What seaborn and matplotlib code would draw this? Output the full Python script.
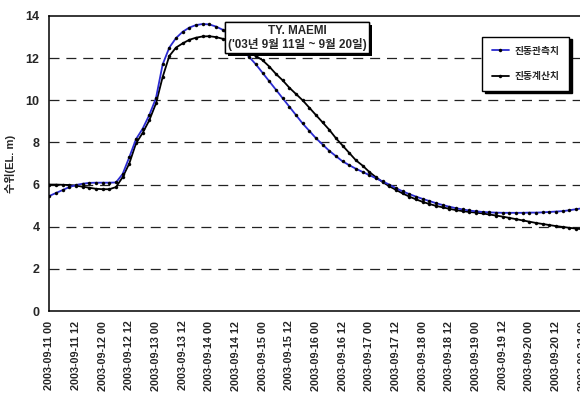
import matplotlib
matplotlib.use("Agg")
import matplotlib.pyplot as plt
import matplotlib.dates as mdates
import matplotlib.patheffects as pe
import seaborn as sns
import pandas as pd

# 3-hourly water level, 2003-09-11 00h .. 2003-09-21 00h (EL. m)
times = pd.date_range("2003-09-11 00:00", "2003-09-21 00:00", freq="3h")

observed = [5.46, 5.60, 5.74, 5.88, 5.98, 6.04, 6.08, 6.09, 6.09, 6.09,
            6.10, 6.50, 7.30, 8.15, 8.65, 9.30, 10.10, 11.70, 12.50, 12.95,
            13.25, 13.45, 13.57, 13.62, 13.60, 13.50, 13.35, 13.10, 12.75, 12.40,
            12.05, 11.70, 11.30, 10.90, 10.50, 10.10, 9.70, 9.30, 8.90, 8.55,
            8.20, 7.90, 7.60, 7.35, 7.10, 6.92, 6.75, 6.60, 6.45, 6.30,
            6.15, 6.00, 5.83, 5.68, 5.55, 5.43, 5.32, 5.22, 5.12, 5.03,
            4.95, 4.88, 4.82, 4.77, 4.73, 4.70, 4.68, 4.67, 4.66, 4.66,
            4.66, 4.66, 4.67, 4.67, 4.68, 4.70, 4.72, 4.74, 4.78, 4.83,
            4.88]

computed = [6.00, 6.00, 5.99, 5.98, 5.95, 5.90, 5.85, 5.80, 5.78, 5.78,
            5.88, 6.35, 7.00, 7.95, 8.45, 9.05, 9.85, 11.10, 12.10, 12.50,
            12.70, 12.87, 12.97, 13.03, 13.04, 13.00, 12.92, 12.80, 12.62, 12.42,
            12.25, 12.10, 11.90, 11.60, 11.25, 10.95, 10.60, 10.30, 10.00, 9.65,
            9.30, 8.95, 8.60, 8.20, 7.85, 7.50, 7.15, 6.90, 6.60, 6.35,
            6.12, 5.92, 5.75, 5.58, 5.43, 5.30, 5.18, 5.08, 4.99, 4.92,
            4.85, 4.79, 4.74, 4.70, 4.67, 4.63, 4.58, 4.53, 4.48, 4.42,
            4.36, 4.30, 4.24, 4.18, 4.13, 4.08, 4.03, 3.99, 3.95, 3.91,
            3.88]

series_labels = ["진동관측치", "진동계산치"]
y_ticks = [0, 2, 4, 6, 8, 10, 12, 14]
y_label = "수위(EL. m)"
note_text = "TY. MAEMI\n('03년 9월 11일 ~ 9월 20일)"

sns.set_style("white")
plt.rcParams["font.family"] = ["Liberation Sans", "Noto Sans CJK KR", "DejaVu Sans"]
plt.rcParams["font.weight"] = "bold"

fig = plt.figure(figsize=(5.8, 4), dpi=100)
ax = fig.add_axes([49.3 / 580, 89 / 400, 533.3 / 580, 295 / 400])

line_style = dict(lw=1.3, marker="o", markersize=2.2, markerfacecolor="black",
                  markeredgecolor="black", markeredgewidth=0.3)
sns.lineplot(x=times, y=observed, ax=ax, color="#2b2bd0",
             label=series_labels[0], zorder=4, **line_style)
sns.lineplot(x=times, y=computed, ax=ax, color="black",
             label=series_labels[1], zorder=3, **line_style)

ax.set_ylim(0, 14)
ax.set_yticks(y_ticks)
ax.set_xlim(times[0], times[-1])
ax.xaxis.set_major_locator(mdates.HourLocator(byhour=[0, 12]))
ax.xaxis.set_major_formatter(mdates.DateFormatter("%Y-%m-%d %H"))
plt.setp(ax.get_xticklabels(), rotation=90, fontsize=7.8, fontweight="bold")
plt.setp(ax.get_yticklabels(), fontsize=9, fontweight="bold")
ax.tick_params(axis="x", direction="in", length=3, width=1, pad=7, color="black")
ax.tick_params(axis="y", length=0, pad=7)

ax.set_xlabel("")
ax.set_ylabel(y_label, fontsize=8, fontweight="bold")
ax.yaxis.set_label_coords(-0.063, 0.5)

for y in y_ticks[1:-1]:
    ax.axhline(y, color="#222222", lw=0.9, ls=(0, (8, 5.5)), zorder=1)
for s in ax.spines.values():
    s.set_color("black")
    s.set_linewidth(1.1)

leg = ax.legend(loc="upper right", bbox_to_anchor=(0.975, 0.93),
                frameon=True, fancybox=False, edgecolor="black",
                shadow={"color": "black", "alpha": 1, "ox": 2, "oy": -2},
                prop={"size": 7, "weight": "bold"}, handlelength=1.8,
                handletextpad=0.6, labelspacing=1.6, borderpad=0.95,
                borderaxespad=0)
leg.get_frame().set_linewidth(1)
leg.get_frame().set_alpha(1)

t = ax.text(0.4645, 0.927, note_text, transform=ax.transAxes, ha="center",
            va="center", fontsize=8.4, fontweight="bold", linespacing=1.1,
            bbox=dict(boxstyle="square,pad=0.2", fc="white", ec="black", lw=1),
            zorder=6)
t.get_bbox_patch().set_path_effects([
    pe.withSimplePatchShadow(offset=(2, -2), shadow_rgbFace="black", alpha=1),
    pe.Normal()])

fig.savefig("out.png", dpi=100)
